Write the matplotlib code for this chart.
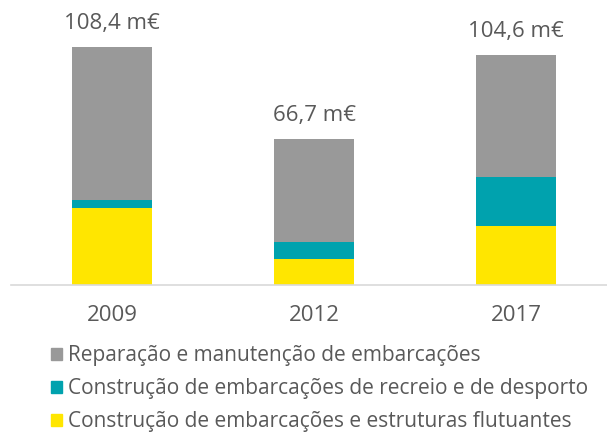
import matplotlib.pyplot as plt
from matplotlib.patches import Patch

plt.rcParams['font.family'] = ['Open Sans', 'DejaVu Sans']

anos = ['2009', '2012', '2017']
construcao = [35.0, 12.0, 26.8]
recreio = [3.9, 7.6, 22.3]
reparacao = [69.5, 47.1, 55.5]
totais = ['108,4 m€', '66,7 m€', '104,6 m€']
series_names = ['Reparação e manutenção de embarcações',
                'Construção de embarcações de recreio e de desporto',
                'Construção de embarcações e estruturas flutuantes']

c_gray = '#999999'
c_teal = '#00A2AE'
c_yellow = '#FFE600'
txt = '#595959'

fig = plt.figure(figsize=(6.07, 4.32), dpi=100)
ax = fig.add_axes([11 / 607, 0.3396, 596 / 607, 0.6604])

x = range(len(anos))
w = 0.4
ax.bar(x, construcao, w, color=c_yellow)
ax.bar(x, recreio, w, bottom=construcao, color=c_teal)
bot3 = [a + b for a, b in zip(construcao, recreio)]
ax.bar(x, reparacao, w, bottom=bot3, color=c_gray)

for i, lab in enumerate(totais):
    top = bot3[i] + reparacao[i]
    ax.annotate(lab, (i, top), xytext=(0, 17), textcoords='offset points',
                ha='center', va='center', fontsize=16, color=txt)

ax.set_xlim(-0.5, 2.45)
ax.set_ylim(0, 129.8)
ax.set_xticks(list(x))
ax.set_xticklabels(anos, fontsize=16, color=txt)
ax.tick_params(axis='x', length=0, pad=14)
ax.set_yticks([])
for s in ['top', 'right', 'left']:
    ax.spines[s].set_visible(False)
ax.spines['bottom'].set_color('#d9d9d9')
ax.spines['bottom'].set_linewidth(1.2)

handles = [Patch(color=c) for c in [c_gray, c_teal, c_yellow]]
fig.legend(handles, series_names, loc='upper left', bbox_to_anchor=(0.084, 0.201),
           frameon=False, fontsize=15, labelcolor=txt, handlelength=0.53,
           handleheight=0.53, handletextpad=0.29, labelspacing=0.58,
           borderpad=0, borderaxespad=0)

fig.savefig('out.png', dpi=100)
